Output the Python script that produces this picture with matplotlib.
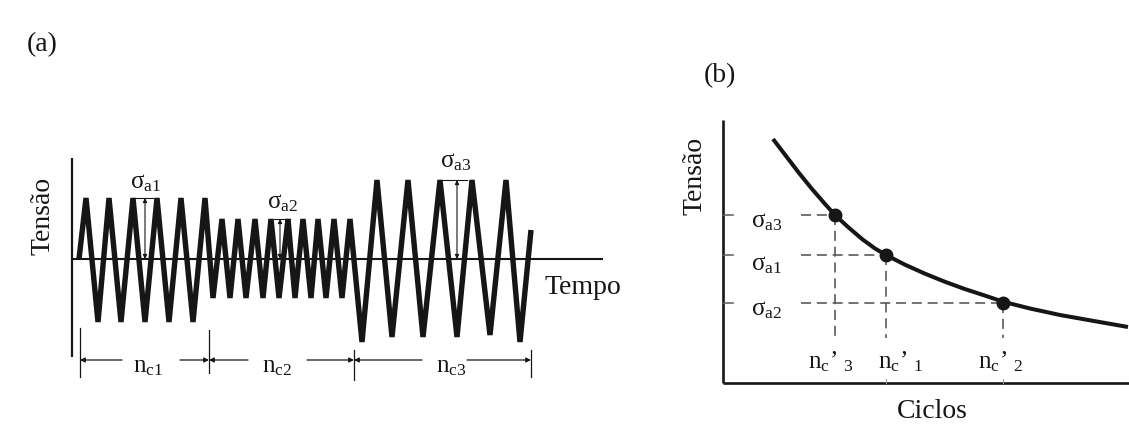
import matplotlib
matplotlib.use('Agg')
import matplotlib.pyplot as plt

plt.rcParams['font.family'] = ['Liberation Serif', 'DejaVu Serif']
plt.rcParams['mathtext.fontset'] = 'custom'
plt.rcParams['mathtext.rm'] = 'Liberation Serif'
plt.rcParams['mathtext.it'] = 'Liberation Serif:italic'
plt.rcParams['mathtext.bf'] = 'Liberation Serif:bold'

# ---------------- data: panel (a) stress history ----------------
wave_time = [7, 14, 26, 37, 49, 61, 73, 85, 97, 109, 121, 133,
             141, 150, 158, 166, 174, 183, 191, 199, 207, 216, 223, 231,
             239, 246, 254, 262, 270, 278,
             290, 305, 320, 336, 351, 368, 385, 400, 418, 434, 448, 459]
wave_stress = [0, 61, -63, 61, -63, 61, -63, 61, -63, 61, -63, 61,
               -39, 40, -39, 40, -39, 40, -39, 40, -39, 40, -39, 40,
               -39, 40, -39, 40, -39, 40,
               -83, 79, -78, 79, -78, 79, -78, 79, -76, 79, -83, 29]

block_bounds = [8, 137, 282, 459]
block_labels = [r'$\mathrm{n_{c1}}$', r'$\mathrm{n_{c2}}$', r'$\mathrm{n_{c3}}$']
block_label_t = [76, 205, 379]

amp_values = [61, 40, 79]
amp_labels = [r'$\mathrm{\sigma_{a1}}$', r'$\mathrm{\sigma_{a2}}$', r'$\mathrm{\sigma_{a3}}$']

# ---------------- data: panel (b) S-N curve ----------------
curve_cycles = [50, 63, 76, 89, 102, 112, 125, 139, 152, 163, 182, 202,
                222, 242, 262, 280, 307, 337, 372, 405]
curve_stress = [244, 227, 210, 194, 179, 168, 156, 144, 134.5, 128, 118.3,
                109.3, 101.2, 93.9, 87.4, 81.3, 74.5, 68, 61.8, 56]

sigma_levels = [168, 128, 80]          # sigma_a3, sigma_a1, sigma_a2
life_cycles = [112, 163, 280]          # n'_c3, n'_c1, n'_c2
sigma_names = [r'$\mathrm{\sigma_{a3}}$', r'$\mathrm{\sigma_{a1}}$', r'$\mathrm{\sigma_{a2}}$']
life_names = [r'$\mathrm{n_c}$’ ${}_\mathrm{3}$', r'$\mathrm{n_c}$’ ${}_\mathrm{1}$',
              r'$\mathrm{n_c}$’ ${}_\mathrm{2}$']

W, H = 1129, 425
fig = plt.figure(figsize=(W / 100, H / 100), dpi=100)
fig.patch.set_facecolor('white')

INK = '#161616'
FS_BIG = 20
FS_LAB = 18

# ---------------- panel (a) ----------------
axa = fig.add_axes([72 / W, (H - 390) / H, 531 / W, 240 / H])
axa.set_xlim(0, 531)
axa.set_ylim(-131, 109)
axa.axis('off')

axa.plot([0, 0], [101, -98], color=INK, lw=1.6, clip_on=False, solid_capstyle='butt')
axa.plot([0, 531], [0, 0], color=INK, lw=1.5, clip_on=False, solid_capstyle='butt')
axa.plot(wave_time, wave_stress, color=INK, lw=3.9, solid_joinstyle='miter',
         solid_capstyle='butt', clip_on=False, zorder=3)

# amplitude markers
amp_t = [73, 208, 385]
amp_ref = [(61, 81), (202, 218), (368, 395)]
amp_lab_pos = [(74, 76), (211, 56), (384, 97)]
for a, t, (r0, r1), (lx, ly), lab in zip(amp_values, amp_t, amp_ref, amp_lab_pos, amp_labels):
    axa.plot([r0, r1], [a, a], color=INK, lw=0.8, clip_on=False, zorder=4)
    axa.annotate('', xy=(t, a), xytext=(t, 0),
                 arrowprops=dict(arrowstyle='<|-|>', color=INK, lw=0.8,
                                 mutation_scale=6, shrinkA=0, shrinkB=0), zorder=4)
    axa.text(lx, ly, lab, fontsize=FS_LAB, ha='center', va='center', color=INK)

# block dimension lines
dim_y = -101
tick_top = [-69, -71, -91, -91]
tick_bot = [-118, -114, -121, -118]
for x, t0, t1 in zip(block_bounds, tick_top, tick_bot):
    axa.plot([x, x], [t0, t1], color=INK, lw=0.9, clip_on=False)
gap_l = [26, 29, 29]
gap_r = [32, 30, 16]
for i in range(3):
    L, R = block_bounds[i], block_bounds[i + 1]
    c = block_label_t[i]
    axa.annotate('', xy=(L, dim_y), xytext=(c - gap_l[i], dim_y),
                 arrowprops=dict(arrowstyle='-|>', color=INK, lw=0.9,
                                 mutation_scale=7, shrinkA=0, shrinkB=0))
    axa.annotate('', xy=(R, dim_y), xytext=(c + gap_r[i], dim_y),
                 arrowprops=dict(arrowstyle='-|>', color=INK, lw=0.9,
                                 mutation_scale=7, shrinkA=0, shrinkB=0))
    axa.text(c, -108, block_labels[i], fontsize=FS_LAB, ha='center', va='center', color=INK)

axa.text(-29, 43, 'Tensão', fontsize=FS_BIG, rotation=90, ha='center', va='center', color=INK)
axa.text(511, -28, 'Tempo', fontsize=FS_BIG, ha='center', va='center', color=INK)

# ---------------- panel (b) ----------------
axb = fig.add_axes([723 / W, (H - 383) / H, 406 / W, 263 / H])
axb.set_xlim(0, 406)
axb.set_ylim(0, 263)
axb.axis('off')
axb.plot([0, 0], [0, 263], color=INK, lw=1.9, clip_on=False, solid_capstyle='butt')
axb.plot([0, 406], [0, 0], color=INK, lw=1.9, clip_on=False, solid_capstyle='butt')

DASH = '#5a5a5a'
for s, n, lab in zip(sigma_levels, life_cycles, sigma_names):
    axb.plot([0, 10], [s, s], color=DASH, lw=1.1, clip_on=False)
    axb.plot([78, n], [s, s], color=DASH, lw=1.2, dashes=(6, 3.5), clip_on=False)
    axb.plot([n, n], [s, 45], color=DASH, lw=1.2, dashes=(6, 3.5), clip_on=False)
for n in life_cycles[1:]:
    axb.plot([n, n], [0, 4], color='#9a9a9a', lw=0.8, clip_on=False)

axb.plot(curve_cycles, curve_stress, color=INK, lw=2.9, clip_on=False,
         solid_capstyle='butt', zorder=4)
axb.plot(life_cycles, sigma_levels, 'o', color=INK, ms=9, clip_on=False, zorder=5)

sig_lab_y = [161, 118, 73]
for y, lab in zip(sig_lab_y, sigma_names):
    axb.text(44, y, lab, fontsize=FS_LAB, ha='center', va='center', color=INK)
life_lab_x = [108, 178, 278]
for x, lab in zip(life_lab_x, life_names):
    axb.text(x, 21, lab, fontsize=FS_LAB, ha='center', va='center', color=INK)

axb.text(-28, 207, 'Tensão', fontsize=FS_BIG, rotation=90, ha='center', va='center', color=INK)
axb.text(209, -29, 'Ciclos', fontsize=FS_BIG, ha='center', va='center', color=INK)

fig.text(42 / W, 1 - 45 / H, '(a)', fontsize=FS_BIG, ha='center', va='center', color=INK)
fig.text(720 / W, 1 - 76 / H, '(b)', fontsize=FS_BIG, ha='center', va='center', color=INK)

fig.savefig('out.png', dpi=100, facecolor='white')
